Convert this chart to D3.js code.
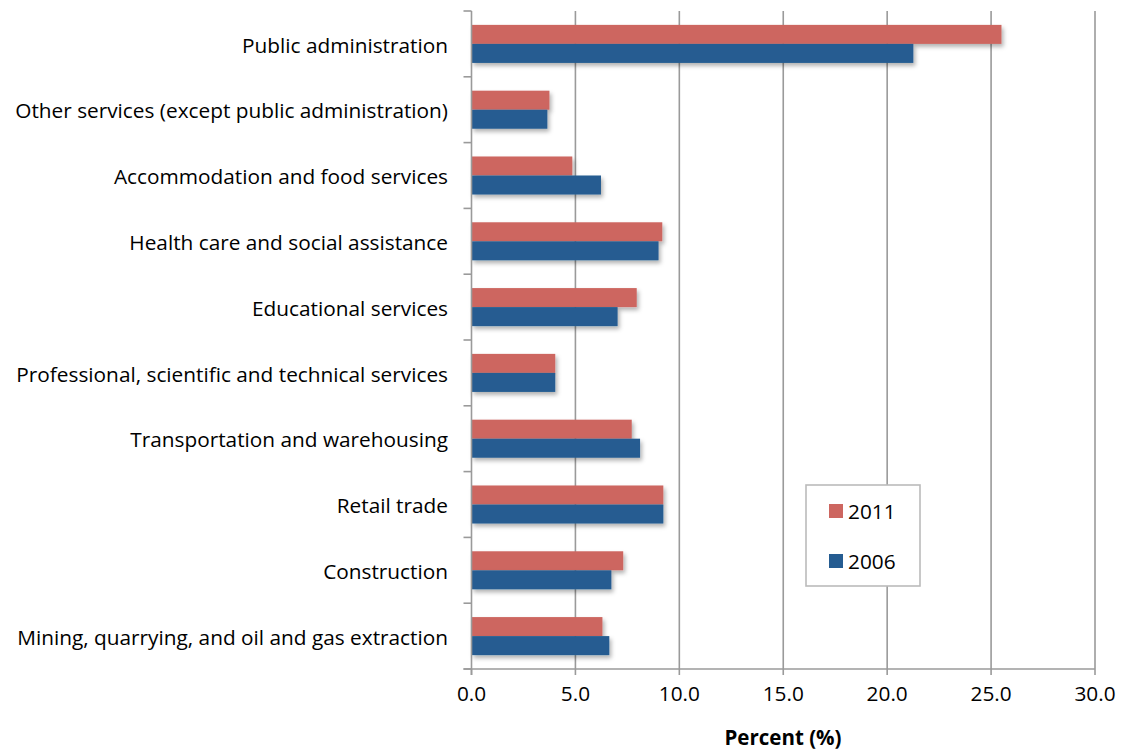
<!DOCTYPE html>
<html><head><meta charset="utf-8">
<script src="https://cdnjs.cloudflare.com/ajax/libs/d3/7.8.5/d3.min.js"></script>
<style>body{margin:0;background:#fff}svg{display:block}</style>
</head><body>
<svg id="c" width="1121" height="751"></svg>
<script>
const categories = ["Public administration","Other services (except public administration)","Accommodation and food services","Health care and social assistance","Educational services","Professional, scientific and technical services","Transportation and warehousing","Retail trade","Construction","Mining, quarrying, and oil and gas extraction"];
const series = ["2011","2006"];
const values2011 = [25.5,3.75,4.85,9.18,7.95,4.03,7.71,9.23,7.3,6.3];
const values2006 = [21.26,3.65,6.23,9.0,7.03,4.03,8.11,9.23,6.73,6.63];
const xTicks = [0,5,10,15,20,25,30];
const colors = {"2011":"#CD6660","2006":"#255C91"};

(function(){
const svg = d3.select("#c");
const font = "'Open Sans', Lato, sans-serif";
const fs = 20.8;
const pL = 471.5, pR = 1095, pT = 11, pB = 669;
const x = d3.scaleLinear().domain([0,30]).range([pL,pR]);
const y = d3.scaleBand().domain(categories).range([pT,pB]);
const ys = d3.scaleBand().domain(series).range([0,y.bandwidth()]).paddingOuter(0.73);

const defs = svg.append("defs");
const f = defs.append("filter").attr("id","sh").attr("x","-5%").attr("y","-30%").attr("width","120%").attr("height","180%");
f.append("feDropShadow").attr("dx",2).attr("dy",3).attr("stdDeviation",2).attr("flood-color","#000").attr("flood-opacity",0.3);

svg.append("g").selectAll("line").data(xTicks.filter(d=>d>0)).join("line")
  .attr("x1",d=>x(d)).attr("x2",d=>x(d)).attr("y1",pT).attr("y2",pB)
  .attr("stroke","#9a9a9a").attr("stroke-width",1.6);

const rows = categories.map((c,i)=>({c, v:{"2011":values2011[i],"2006":values2006[i]}}));
const g = svg.append("g");
rows.forEach(r=>{
  series.forEach(s=>{
    g.append("rect").attr("x",x(0)).attr("y",y(r.c)+ys(s))
      .attr("width",x(r.v[s])-x(0)).attr("height",ys.bandwidth())
      .attr("fill",colors[s]).attr("filter","url(#sh)");
  });
});

const ya = svg.append("g");
ya.append("line").attr("x1",pL).attr("x2",pL).attr("y1",pT).attr("y2",pB+6).attr("stroke","#9a9a9a").attr("stroke-width",1.6);
const bounds = categories.map(c=>y(c)).concat([pB]);
ya.selectAll("line.t").data(bounds).join("line").attr("class","t")
  .attr("x1",pL-8).attr("x2",pL).attr("y1",d=>d).attr("y2",d=>d).attr("stroke","#9a9a9a").attr("stroke-width",1.6);
ya.selectAll("text").data(categories).join("text")
  .attr("x",448).attr("y",d=>y(d)+y.bandwidth()/2+1.5).attr("dy","0.35em")
  .attr("text-anchor","end").attr("font-family",font).attr("font-size",fs).attr("fill","#000").text(d=>d);

const xa = svg.append("g");
xa.append("line").attr("x1",pL-8).attr("x2",pR).attr("y1",pB).attr("y2",pB).attr("stroke","#9a9a9a").attr("stroke-width",1.6);
xa.selectAll("line.t").data(xTicks).join("line").attr("class","t")
  .attr("x1",d=>x(d)).attr("x2",d=>x(d)).attr("y1",pB).attr("y2",pB+6).attr("stroke","#9a9a9a").attr("stroke-width",1.6);
xa.selectAll("text").data(xTicks).join("text")
  .attr("x",d=>x(d)).attr("y",701).attr("text-anchor","middle")
  .attr("font-family",font).attr("font-size",fs).attr("fill","#000").text(d=>d.toFixed(1));
svg.append("text").attr("x",783).attr("y",745).attr("text-anchor","middle")
  .attr("font-family",font).attr("font-size",20.5).attr("font-weight","bold").text("Percent (%)");

const lg = svg.append("g");
lg.append("rect").attr("x",806).attr("y",485).attr("width",114).attr("height",101)
  .attr("fill","#fff").attr("stroke","#bbb").attr("stroke-width",1.6);
series.forEach((s,i)=>{
  lg.append("rect").attr("x",829).attr("y",504+i*50).attr("width",14).attr("height",14).attr("fill",colors[s]);
  lg.append("text").attr("x",848).attr("y",512+i*50).attr("dy","0.35em").attr("font-family",font).attr("font-size",fs).text(s);
});
})();
</script>
</body></html>
